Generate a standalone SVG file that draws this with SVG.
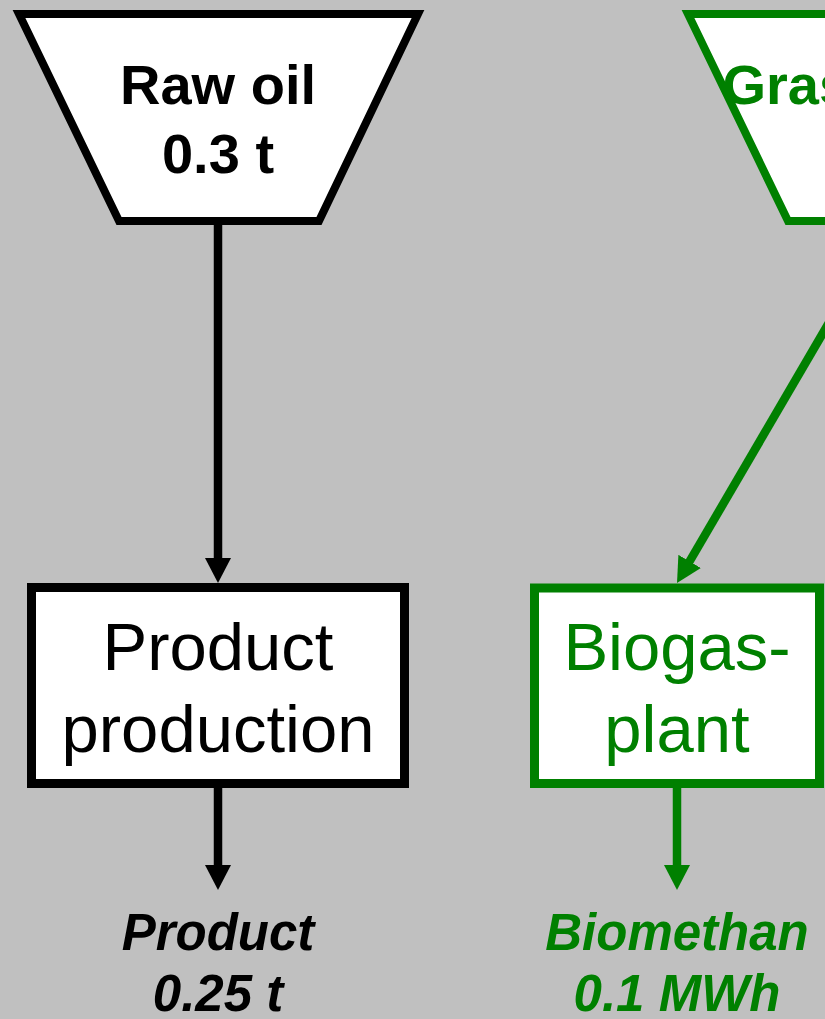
<svg xmlns="http://www.w3.org/2000/svg" width="825" height="1019" viewBox="0 0 825 1019">
<defs>
<style>
.bg{fill:#C0C0C0}
.src{fill:#FFFFFF;stroke-width:8;stroke-linejoin:miter}
.box{fill:#FFFFFF;stroke-width:9}
.k{stroke:#000000}
.g{stroke:#008000}
.tk{fill:#000000}
.tg{fill:#008000}
.lbl{font-family:"Liberation Sans",Arial,sans-serif;text-anchor:middle}
.bold{font-weight:bold;font-size:56px}
.reg{font-size:67px}
.out{font-weight:bold;font-style:italic;font-size:51px}
.conn{fill:none;stroke-width:8.5}
</style>
<marker id="ak" markerUnits="userSpaceOnUse" markerWidth="26" markerHeight="26" refX="5" refY="13" orient="auto"><path d="M0,0 L25,13 L0,26 Z" fill="#000000"/></marker>
<marker id="ag" markerUnits="userSpaceOnUse" markerWidth="26" markerHeight="26" refX="5" refY="13" orient="auto"><path d="M0,0 L25,13 L0,26 Z" fill="#008000"/></marker>
</defs>
<rect class="bg" x="0" y="0" width="825" height="1019"/>
<g id="connectors">
<line class="conn k" x1="218" y1="225" x2="218" y2="563" marker-end="url(#ak)"/>
<line class="conn k" x1="218" y1="788" x2="218" y2="870" marker-end="url(#ak)"/>
<line class="conn g" x1="886" y1="225" x2="687.1" y2="565.7" marker-end="url(#ag)"/>
<line class="conn g" x1="677" y1="788" x2="677" y2="870" marker-end="url(#ag)"/>
</g>
<g id="raw-oil">
<polygon class="src k" points="19,14 418,14 319,221 119,221"/>
<text class="lbl bold tk" x="218" y="104">Raw oil</text>
<text class="lbl bold tk" x="218" y="173">0.3 t</text>
</g>
<g id="grass">
<polygon class="src g" points="688,14 1088,14 988,221 788,221"/>
<text class="bold tg" x="722.5" y="104" style="font-family:'Liberation Sans',Arial,sans-serif">Gras</text>
</g>
<g id="product-production">
<rect class="box k" x="31.5" y="587.5" width="373" height="196"/>
<text class="lbl reg tk" x="218" y="670">Product</text>
<text class="lbl reg tk" x="218" y="752">production</text>
</g>
<g id="biogas-plant">
<rect class="box g" x="534.5" y="588" width="285" height="195.5"/>
<text class="lbl reg tg" x="677" y="670">Biogas-</text>
<text class="lbl reg tg" x="677" y="752">plant</text>
</g>
<g id="product-output">
<text class="lbl out tk" x="218" y="950">Product</text>
<text class="lbl out tk" x="218" y="1011">0.25 t</text>
</g>
<g id="biomethan-output">
<text class="lbl out tg" x="677" y="950">Biomethan</text>
<text class="lbl out tg" x="677" y="1011">0.1 MWh</text>
</g>
</svg>
